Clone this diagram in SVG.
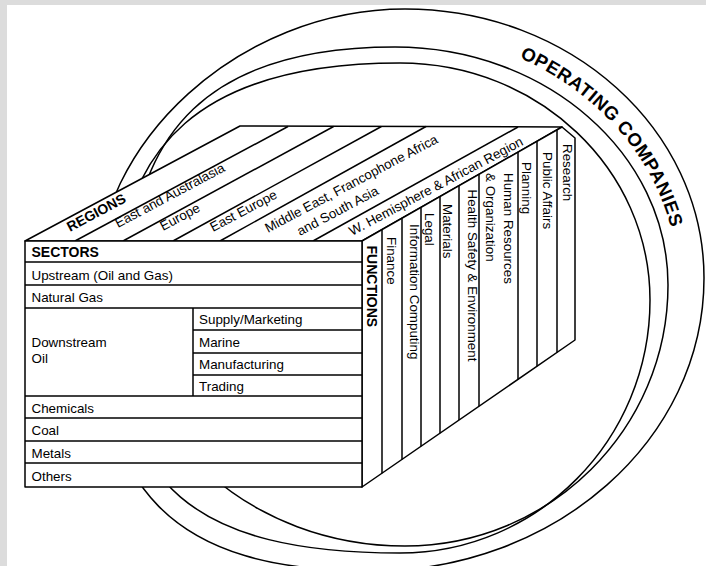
<svg xmlns="http://www.w3.org/2000/svg" width="706" height="566" viewBox="0 0 706 566">
<style>
.ln{fill:none;stroke:#000;stroke-width:1.5}
.face{fill:#fff;stroke:#000;stroke-width:1.5;stroke-linejoin:round}
.t{font-family:"Liberation Sans",Arial,sans-serif;font-size:13.4px;fill:#000}
.b{font-family:"Liberation Sans",Arial,sans-serif;font-size:14px;font-weight:bold;fill:#000}
.oc{font-family:"Liberation Sans",Arial,sans-serif;font-size:18.5px;font-weight:bold;fill:#000;letter-spacing:0.6px}
</style>
<defs>
<path id="ocPath" d="M492.1,47.4 A284,256 0 0,1 676.9,256.8"/>
</defs>
<rect x="0" y="0" width="706" height="566" fill="#dcdcdc"/>
<rect x="7" y="5" width="699" height="561" fill="#fff"/>

<g id="operating-companies">
<path class="ln" d="M405,9 C570.1,9 704,129.4 704,278 C704,439.8 555.4,571 372,571 C172.6,571 95,492.3 95,290 C95,141 240.7,9 405,9 Z"/>
<path class="ln" d="M395,47 C545.8,47 668,153.6 668,285 C668,429.1 550.3,546 405,546 C252,546 128,435.9 128,300 C128,128 213.4,47 395,47 Z"/>
<path class="ln" d="M400,63 C538.1,63 650,169.1 650,300 C650,439.7 538.1,553 400,553 C194.8,553 115,485 115,310 C115,142 206.2,63 400,63 Z"/>
<text class="oc"><textPath href="#ocPath" startOffset="50%" text-anchor="middle">OPERATING COMPANIES</textPath></text>
</g>

<g id="regions">
<polygon class="face" points="25,241 240,126 562,127 362,241"/>
<g class="ln">
<line x1="75" y1="241" x2="288" y2="126.5"/>
<line x1="123" y1="241" x2="333.6" y2="126.5"/>
<line x1="173" y1="241" x2="381.4" y2="126.5"/>
<line x1="220" y1="241" x2="426" y2="126.5"/>
<line x1="313" y1="241" x2="518" y2="127"/>
</g>
<text class="b" transform="translate(70,232) rotate(-28)">REGIONS</text>
<text class="t" transform="translate(118,228) rotate(-28)">East and Australasia</text>
<text class="t" transform="translate(163,231) rotate(-28)">Europe</text>
<text class="t" transform="translate(213,232) rotate(-28)">East Europe</text>
<text class="t" transform="translate(268,233) rotate(-28)">Middle East, Francophone Africa</text>
<text class="t" transform="translate(300,236) rotate(-28)">and South Asia</text>
<text class="t" transform="translate(352,236) rotate(-28)">W. Hemisphere &amp; African Region</text>
</g>

<g id="functions">
<polygon class="face" points="362,241 562,127 575,138 575,340 362,487"/>
<g class="ln">
<line x1="382" y1="229.6" x2="382" y2="473.2"/>
<line x1="402" y1="218.2" x2="402" y2="459.4"/>
<line x1="421" y1="207.4" x2="421" y2="446.3"/>
<line x1="440" y1="196.5" x2="440" y2="433.2"/>
<line x1="459" y1="185.7" x2="459" y2="420.1"/>
<line x1="479" y1="174.3" x2="479" y2="406.3"/>
<line x1="518" y1="152.1" x2="518" y2="379.4"/>
<line x1="537" y1="141.3" x2="537" y2="366.3"/>
<line x1="557" y1="129.9" x2="557" y2="352.4"/>
</g>
<text class="b" transform="translate(367,245.5) rotate(90)">FUNCTIONS</text>
<text class="t" transform="translate(386.5,237) rotate(90)">Finance</text>
<text class="t" transform="translate(409.5,224) rotate(90)">Information Computing</text>
<text class="t" transform="translate(424.5,213) rotate(90)">Legal</text>
<text class="t" transform="translate(442.5,204) rotate(90)">Materials</text>
<text class="t" transform="translate(467.5,189.5) rotate(90)">Health Safety &amp; Environment</text>
<text class="t" transform="translate(503.5,173) rotate(90)">Human Resources</text>
<text class="t" transform="translate(485.5,173) rotate(90)">&amp; Organization</text>
<text class="t" transform="translate(521.5,162) rotate(90)">Planning</text>
<text class="t" transform="translate(542.5,152) rotate(90)">Public Affairs</text>
<text class="t" transform="translate(562.5,144) rotate(90)">Research</text>
</g>

<g id="sectors">
<rect class="face" x="25" y="241" width="337" height="246"/>
<g class="ln">
<line x1="25" y1="262" x2="362" y2="262"/>
<line x1="25" y1="285" x2="362" y2="285"/>
<line x1="25" y1="308" x2="362" y2="308"/>
<line x1="193" y1="330" x2="362" y2="330"/>
<line x1="193" y1="353" x2="362" y2="353"/>
<line x1="193" y1="375" x2="362" y2="375"/>
<line x1="193" y1="308" x2="193" y2="396"/>
<line x1="25" y1="396" x2="362" y2="396"/>
<line x1="25" y1="418" x2="362" y2="418"/>
<line x1="25" y1="441" x2="362" y2="441"/>
<line x1="25" y1="463" x2="362" y2="463"/>
</g>
<text class="b" x="31.5" y="257">SECTORS</text>
<text class="t" x="31.5" y="279.5">Upstream (Oil and Gas)</text>
<text class="t" x="31.5" y="302">Natural Gas</text>
<text class="t" x="31.5" y="347">Downstream</text>
<text class="t" x="31.5" y="363">Oil</text>
<text class="t" x="199" y="324">Supply/Marketing</text>
<text class="t" x="199" y="347">Marine</text>
<text class="t" x="199" y="369">Manufacturing</text>
<text class="t" x="199" y="390.5">Trading</text>
<text class="t" x="31.5" y="412.5">Chemicals</text>
<text class="t" x="31.5" y="435">Coal</text>
<text class="t" x="31.5" y="457.5">Metals</text>
<text class="t" x="31.5" y="481">Others</text>
</g>
</svg>
